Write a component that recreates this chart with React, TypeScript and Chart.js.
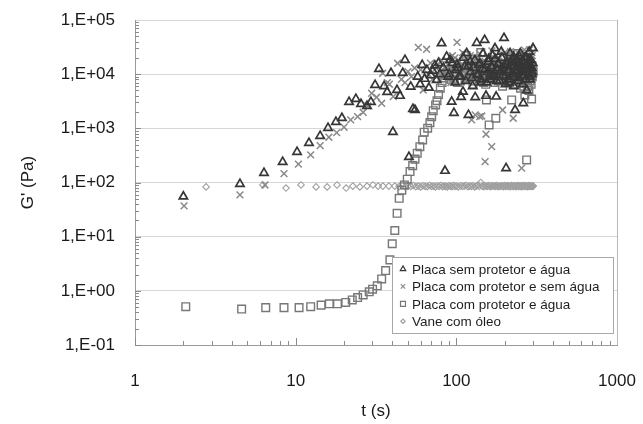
import React, { useEffect, useRef } from 'react';
import { Chart, registerables } from 'chart.js';
import { drawPoint } from 'chart.js/helpers';

Chart.register(...registerables);

const seriesNames = [
  'Placa sem protetor e água',
  'Placa com protetor e sem água',
  'Placa com protetor e água',
  'Vane com óleo',
];

// Placa sem protetor e água (triangles)
const triT = [
  2.0, 4.5, 6.35, 8.3, 10.2, 12.1, 14.2, 15.9, 17.8, 19.4,
  21.5, 23.7, 25.5, 27.8, 29.4, 31.2, 33.0, 35.5, 37.1, 39.2,
  40.3, 42.7, 44.6, 46.4, 47.9, 50.7, 52.0, 53.7, 55.3, 57.5,
  59.5, 61.3, 63.5, 65.5, 67.5, 69.5, 71.2, 73.5, 75.4, 77.5,
  79.0, 80.9, 83.0, 85.0, 87.0, 89.0, 91.4, 93.5, 96.6, 99.0,
  101, 104, 107, 110, 113, 116, 119, 122, 125, 128,
  131, 134, 137, 140, 143, 146, 150, 153, 156, 159,
  162, 165, 168, 171, 174, 177, 180, 183, 186, 189,
  192, 195, 198, 201, 204, 207, 210, 213, 216, 219,
  222, 225, 228, 232, 235, 238, 241, 244, 247, 250,
  253, 256, 259, 261, 263, 266, 269, 272, 275, 278,
  281, 284, 287, 290, 294, 297, 300,
  90.5, 94.5, 98.5, 102.5, 106.5, 110.5, 114.5, 118.5, 122.5, 126.5,
  130.5, 134.5, 138.5, 142.5, 146.5, 150.5, 154.5, 158.5, 162.5, 166.5,
  170.5, 174.5, 178.5, 182.5, 186.5, 190.5, 194.5, 198.5, 202.5, 206.5,
  210.5, 214.5, 218.5, 222.5, 226.5, 230.5, 234.5, 238.5, 242.5, 246.5,
  250.5, 254.5, 258.5, 262.5, 266.5, 270.5, 274.5, 278.5, 282.5, 286.5,
  290.5, 294.5, 298.5,
];
const triG = [
  55, 94, 150, 240, 367, 537, 724, 1016, 1312, 1550,
  3070, 3480, 2820, 2590, 3070, 6310, 12470, 6000, 4680, 10500,
  860, 5100, 3980, 10500, 18300, 297, 5880, 2280, 2180, 9000,
  6500, 14800, 8200, 12000, 5600, 9500, 11600, 14500, 7820, 16000,
  10000, 37200, 13000, 164, 21000, 9000, 18300, 3110, 1920, 12000,
  15000, 9000, 3800, 4750, 14000, 24300, 1770, 17000, 8500, 13000,
  3750, 37700, 10000, 16000, 7000, 12500, 42700, 3980, 11000, 19000,
  8000, 14000, 22000, 9500, 30000, 3850, 12000, 16000, 7500, 11000,
  20000, 13000, 46500, 9000, 184, 15000, 11000, 7000, 24300, 14000,
  10000, 18000, 6000, 2180, 11000, 12000, 16000, 8500, 21000, 24300,
  11000, 14000, 6500, 2900, 17000, 9500, 12000, 20000, 5000, 15000,
  10000, 26000, 8000, 18300, 13000, 11000, 30000,
  10000, 16000, 7000, 13000, 9000, 20000, 7500, 14000, 11000, 6000,
  18000, 9500, 15000, 8000, 24000, 12000, 7000, 17000, 10000, 13000,
  9000, 19000, 7500, 15000, 11000, 26000, 9500, 14000, 6500, 17000,
  12000, 8000, 16000, 10000, 21000, 9000, 13000, 19000, 7500, 15000,
  11000, 17000, 9500, 12500, 20000, 8000, 15000, 12000, 18000, 9000,
  14000, 10000, 16000,
];

// Placa com protetor e sem água (crosses)
const crsT = [
  2.02, 4.5, 6.44, 8.46, 10.4, 12.4, 14.2, 16.1, 18.0, 20.0,
  22.0, 24.3, 26.3, 28.1, 29.7, 31.9, 34.3, 34.8, 37.2, 38.3,
  40.5, 43.1, 45.5, 47.9, 50.0, 52.5, 55.0, 58.0, 60.0, 62.2,
  65.3, 67.0, 69.0, 71.0, 73.0, 75.0, 77.0, 79.0, 81.0, 83.0,
  85.0, 87.5, 90, 92.5, 95, 98, 101, 104, 107, 110,
  113, 116, 119, 122, 124.5, 127, 131, 134, 137, 140,
  144, 147, 151, 153, 156, 159, 162, 166, 169, 172,
  175, 178, 181, 184, 187, 190, 194, 197, 200, 203,
  206, 209, 212, 215, 218, 221, 223, 226, 229, 232,
  235, 238, 241, 244, 247, 250, 253, 255, 258, 261,
  264, 267, 270, 273, 276, 279, 282, 285, 288, 291,
  294, 297, 300,
  88.5, 91.5, 94.5, 97.5, 100.5, 103.5, 106.5, 109.5, 112.5, 115.5,
  118.5, 121.5, 124.5, 127.5, 130.5, 133.5, 136.5, 139.5, 142.5, 145.5,
  148.5, 151.5, 154.5, 157.5, 160.5, 163.5, 166.5, 169.5, 172.5, 175.5,
  178.5, 181.5, 184.5, 187.5, 190.5, 193.5, 196.5, 199.5, 202.5, 205.5,
  208.5, 211.5, 214.5, 217.5, 220.5, 223.5, 226.5, 229.5, 232.5, 235.5,
  238.5, 241.5, 244.5, 247.5, 250.5, 253.5, 256.5, 259.5, 262.5, 265.5,
  268.5, 271.5, 274.5, 277.5, 280.5, 283.5, 286.5, 289.5, 292.5, 295.5,
  298.5,
];
const crsG = [
  37, 59, 90, 146, 218, 323, 480, 685, 834, 1048,
  1430, 1640, 1980, 2590, 4440, 3750, 2900, 10400, 6970, 6520,
  3850, 15900, 8000, 6970, 11100, 9000, 13000, 31300, 12000, 5100,
  28800, 10000, 16000, 8000, 12000, 9000, 15000, 11000, 18000, 8500,
  13000, 10000, 16000, 7000, 12000, 20000, 38600, 9000, 14000, 11000,
  17000, 8000, 13000, 22000, 1430, 10000, 1770, 15000, 9000, 1640,
  1690, 12000, 243, 778, 16000, 11000, 7500, 459, 14000, 20000,
  9500, 12500, 18000, 8000, 15000, 11000, 2180, 13000, 25000, 9000,
  16000, 12000, 7000, 19000, 10000, 14000, 11500, 1535, 17000, 8500,
  13000, 22000, 10000, 15000, 6500, 12000, 18000, 184, 9000, 14000,
  11000, 24000, 8000, 16000, 12000, 20000, 10000, 28000, 13000, 9000,
  17000, 22000, 11000,
  15000, 11000, 22000, 9000, 13000, 18000, 10000, 25000, 12000, 8000,
  16000, 20000, 11000, 14000, 9000, 19000, 13000, 24000, 10000, 15000,
  12000, 17000, 8500, 21000, 14000, 11000, 27000, 13000, 9500, 18000,
  16000, 12000, 20000, 10000, 14000, 23000, 11000, 17000, 9000, 13000,
  19000, 15000, 10500, 26000, 12000, 16000, 8000, 21000, 14000, 11000,
  18000, 13000, 24000, 9500, 15000, 20000, 12000, 17000, 10000, 28000,
  14000, 11000, 19000, 16000, 9000, 22000, 13000, 18000, 12000, 25000,
  15000,
];

// Placa com protetor e água (squares)
const sqT = [
  2.07, 4.61, 6.51, 8.46, 10.5, 12.4, 14.4, 16.2, 18.2, 20.5,
  22.5, 24.3, 26.3, 28.7, 30.1, 32.2, 34.3, 36.3, 38.6, 39.9,
  41.4, 42.8, 44.1, 45.8, 47.5, 49.5, 51.5, 53.5, 55.3, 57.1,
  59.3, 61.7, 63.1, 66.3, 68.5, 70.2, 71.8, 74.3, 75.8, 77.5,
  79.5, 81.5, 83.5, 85.5, 88, 91, 94, 97, 100, 103,
  106, 109, 112, 115, 118, 121, 124, 127, 130, 133,
  136, 139, 142, 145, 148, 151, 154, 157, 160, 163,
  166, 169, 172, 176, 179, 182, 185, 188, 191, 194,
  197, 200, 203, 206, 209, 212, 215, 218, 221, 224,
  227, 230, 233, 236, 239, 242, 245, 248, 251, 254,
  257, 260, 263, 267, 270, 274, 277, 280, 283, 286,
  289, 292, 294, 297, 300,
  89.5, 92.5, 95.5, 98.5, 101.5, 104.5, 107.5, 110.5, 113.5, 116.5,
  119.5, 122.5, 125.5, 128.5, 131.5, 134.5, 137.5, 140.5, 143.5, 146.5,
  149.5, 152.5, 155.5, 158.5, 161.5, 164.5, 167.5, 170.5, 173.5, 176.5,
  179.5, 182.5, 185.5, 188.5, 191.5, 194.5, 197.5, 200.5, 203.5, 206.5,
  209.5, 212.5, 215.5, 218.5, 221.5, 224.5, 227.5, 230.5, 233.5, 236.5,
  239.5, 242.5, 245.5, 248.5, 251.5, 254.5, 257.5, 260.5, 263.5, 266.5,
  269.5, 272.5, 275.5, 278.5, 281.5, 284.5, 287.5, 290.5, 293.5, 296.5,
  299.5,
];
const sqG = [
  0.51, 0.46, 0.49, 0.49, 0.49, 0.51, 0.545, 0.575, 0.575, 0.61,
  0.68, 0.75, 0.84, 0.96, 1.07, 1.24, 1.66, 2.37, 3.73, 7.4,
  13, 27, 51, 72, 90, 115, 159, 205, 270, 348,
  459, 611, 847, 1004, 1275, 1643, 2120, 2700, 3240, 4200,
  5500, 7000, 8500, 9800, 11000, 9000, 12500, 8000, 10500, 13500,
  7500, 11000, 9500, 22000, 8500, 12000, 10000, 6500, 13000, 9000,
  11500, 8000, 25000, 10000, 7000, 12500, 3340, 9500, 1156, 11000,
  8500, 13000, 10000, 1535, 14000, 7500, 11000, 9000, 12000, 6000,
  10500, 13500, 8000, 11000, 9500, 20000, 7000, 12000, 3340, 10000,
  8500, 13000, 6500, 11000, 9000, 24000, 7500, 12000, 5500, 10000,
  8000, 11500, 6000, 4130, 9500, 261, 7000, 18000, 5000, 8500,
  10500, 6500, 3480, 9000, 11000,
  12000, 8000, 15000, 10000, 7000, 13000, 9500, 17000, 11000, 8000,
  14000, 10000, 19000, 7500, 12000, 9000, 16000, 11000, 8500, 13000,
  10000, 6500, 15000, 12000, 9000, 18000, 10500, 7000, 14000, 11000,
  9000, 16000, 12500, 8000, 13000, 10000, 21000, 9000, 15000, 7500,
  12000, 10000, 17000, 8500, 13500, 11000, 6500, 15000, 9500, 12000,
  10000, 19000, 8000, 13000, 11000, 7000, 16000, 9000, 14000, 10500,
  12000, 8000, 15000, 6000, 11000, 13000, 7500, 10000, 9000, 14000,
  12000,
];

// Vane com óleo (diamonds)
const dmT = [
  2.77, 6.26, 8.7, 10.8, 13.4, 15.7, 18.1, 20.6, 22.7, 25.1,
  27.8, 30.3, 32.6, 34.9, 38.0, 41.4, 44, 46, 48, 50,
  52, 54, 56, 58, 60, 62, 64, 66, 68, 70,
  72, 74, 76, 78, 80, 82, 84, 86, 88, 90,
  92, 94, 96, 98, 100, 103, 106, 109, 112, 115,
  118, 121, 124, 127, 130, 133, 136, 139, 142, 145,
  148, 151, 154, 157, 160, 163, 166, 169, 172, 175,
  178, 181, 184, 187, 190, 193, 196, 199, 202, 205,
  208, 211, 214, 217, 220, 223, 226, 229, 232, 235,
  238, 241, 244, 247, 250, 253, 256, 259, 262, 265,
  268, 271, 274, 277, 280, 283, 286, 289, 292, 295,
  298, 301,
];
const dmG = [
  83, 90, 79, 90, 83, 83, 90, 79, 86, 83,
  86, 90, 86, 86, 86, 86, 84, 87, 83, 86,
  85, 88, 84, 86, 83, 87, 85, 84, 88, 85,
  86, 83, 87, 85, 88, 84, 86, 85, 83, 87,
  86, 84, 88, 85, 86, 83, 87, 85, 86, 88,
  84, 86, 85, 87, 83, 86, 88, 85, 100, 86,
  84, 87, 85, 86, 88, 84, 86, 87, 85, 86,
  88, 84, 86, 85, 87, 86, 84, 88, 85, 86,
  87, 85, 86, 84, 88, 86, 85, 87, 86, 84,
  86, 88, 85, 86, 87, 84, 86, 85, 88, 86,
  85, 87, 86, 84, 86, 88, 85, 86, 87, 85,
  86, 86,
];

const xTicks = [1, 10, 100, 1000];
const xTickLabels = ['1', '10', '100', '1000'];
const yTicks = [0.1, 1, 10, 100, 1000, 10000, 100000];
const yTickLabels = ['1,E-01', '1,E+00', '1,E+01', '1,E+02', '1,E+03', '1,E+04', '1,E+05'];

const FONT = '"Liberation Sans", Arial, Helvetica, sans-serif';

const styles = [
  { pointStyle: 'triangle', radius: 4.8, color: '#363636', width: 1.7 },
  { pointStyle: 'crossRot', radius: 4.8, color: '#8a8a8a', width: 1.5 },
  { pointStyle: 'rect', radius: 5.4, color: '#777777', width: 1.4 },
  { pointStyle: 'rectRot', radius: 3.3, color: '#a0a0a0', width: 1.1 },
];

const seriesT = [triT, crsT, sqT, dmT];
const seriesG = [triG, crsG, sqG, dmG];

const framePlugin = {
  id: 'frameTicks',
  beforeDatasetsDraw(chart: any) {
    const { ctx, chartArea: a, scales } = chart;
    const xs = scales.x;
    const ys = scales.y;
    ctx.save();
    ctx.lineWidth = 1;
    ctx.strokeStyle = '#b8b8b8';
    const rx = Math.round(a.right) + 0.5;
    ctx.beginPath();
    ctx.moveTo(rx, a.top);
    ctx.lineTo(rx, a.bottom);
    ctx.stroke();
    ctx.strokeStyle = '#8a8a8a';
    for (let e = -1; e < 5; e++) {
      for (let m = 1; m < 10; m++) {
        const v = m * Math.pow(10, e);
        const py = Math.round(ys.getPixelForValue(v)) + 0.5;
        const len = m === 1 ? 6 : 4;
        ctx.beginPath();
        ctx.moveTo(a.left, py);
        ctx.lineTo(a.left + len, py);
        ctx.stroke();
      }
    }
    for (let e = 0; e < 3; e++) {
      for (let m = 1; m < 10; m++) {
        const v = m * Math.pow(10, e);
        const px = Math.round(xs.getPixelForValue(v)) + 0.5;
        const len = m === 1 ? 7 : 4;
        ctx.beginPath();
        ctx.moveTo(px, a.bottom);
        ctx.lineTo(px, a.bottom - len);
        ctx.stroke();
      }
    }
    ctx.restore();
  },
};

const legendPlugin = {
  id: 'boxLegend',
  afterDatasetsDraw(chart: any) {
    const { ctx, chartArea: a } = chart;
    const w = 221;
    const h = 76;
    const x0 = Math.round(a.right - 4 - w);
    const y0 = Math.round(a.bottom - 12 - h);
    ctx.save();
    ctx.fillStyle = '#ffffff';
    ctx.fillRect(x0, y0, w, h);
    ctx.strokeStyle = '#a8a8a8';
    ctx.lineWidth = 1;
    ctx.strokeRect(x0 + 0.5, y0 + 0.5, w, h);
    seriesNames.forEach((name, i) => {
      const cy = y0 + 12 + i * 17.4;
      const s = styles[i];
      ctx.fillStyle = 'rgba(0,0,0,0)';
      ctx.strokeStyle = s.color;
      ctx.lineWidth = 1.2;
      drawPoint(ctx, { pointStyle: s.pointStyle, radius: s.radius * 0.65, borderWidth: 1.2, rotation: 0 } as any, x0 + 11, cy);
      ctx.fillStyle = '#1e1e1e';
      ctx.font = `13.5px ${FONT}`;
      ctx.textBaseline = 'middle';
      ctx.textAlign = 'left';
      ctx.fillText(name, x0 + 20, cy + 1);
    });
    ctx.restore();
  },
};

export default function App() {
  const ref = useRef<HTMLCanvasElement | null>(null);
  useEffect(() => {
    document.body.style.margin = '0';
    if (!ref.current) return;
    const datasets = seriesNames.map((name, i) => ({
      label: name,
      data: seriesT[i].map((t, k) => ({ x: t, y: seriesG[i][k] })),
      pointStyle: styles[i].pointStyle,
      pointRadius: styles[i].radius,
      pointBorderWidth: styles[i].width,
      pointBorderColor: styles[i].color,
      pointBackgroundColor: 'rgba(0,0,0,0)',
      borderColor: styles[i].color,
      backgroundColor: 'rgba(0,0,0,0)',
      showLine: false,
    }));
    const chart = new Chart(ref.current, {
      type: 'scatter',
      data: { datasets },
      plugins: [framePlugin, legendPlugin],
      options: {
        responsive: false,
        animation: false,
        devicePixelRatio: 1,
        layout: { padding: { top: 20, right: 26, left: 0, bottom: 0 } },
        plugins: { legend: { display: false }, tooltip: { enabled: false } },
        scales: {
          x: {
            type: 'logarithmic',
            min: 1,
            max: 1000,
            afterBuildTicks: (scale: any) => {
              scale.ticks = xTicks.map((v) => ({ value: v }));
            },
            afterFit: (scale: any) => {
              scale.height = 79;
              scale.paddingLeft = 0;
              scale.paddingRight = 0;
            },
            grid: { display: false, drawTicks: false },
            border: { display: true, color: '#9a9a9a', width: 1 },
            ticks: {
              autoSkip: false,
              maxRotation: 0,
              padding: 26,
              color: '#1a1a1a',
              font: { family: FONT, size: 17 },
              callback: (v: any) => {
                const i = xTicks.indexOf(Number(v));
                return i >= 0 ? xTickLabels[i] : '';
              },
            },
            title: {
              display: true,
              text: 't (s)',
              color: '#1a1a1a',
              font: { family: FONT, size: 17 },
              padding: { top: 0, bottom: 2 },
            },
          },
          y: {
            type: 'logarithmic',
            min: 0.1,
            max: 100000,
            afterBuildTicks: (scale: any) => {
              scale.ticks = yTicks.map((v) => ({ value: v }));
            },
            afterFit: (scale: any) => {
              scale.width = 135;
              scale.paddingTop = 0;
              scale.paddingBottom = 0;
            },
            grid: { display: true, color: '#d6d6d6', lineWidth: 1, drawTicks: false },
            border: { display: true, color: '#9a9a9a', width: 1 },
            ticks: {
              autoSkip: false,
              padding: 20,
              color: '#1a1a1a',
              font: { family: FONT, size: 17 },
              callback: (v: any) => {
                const i = yTicks.indexOf(Number(v));
                return i >= 0 ? yTickLabels[i] : '';
              },
            },
            title: {
              display: true,
              text: "G' (Pa)",
              color: '#1a1a1a',
              font: { family: FONT, size: 17 },
              padding: { top: 18, bottom: 0 },
            },
          },
        },
      } as any,
    });
    return () => chart.destroy();
  }, []);
  return <canvas ref={ref} width={643} height={424} style={{ display: 'block' }} />;
}
